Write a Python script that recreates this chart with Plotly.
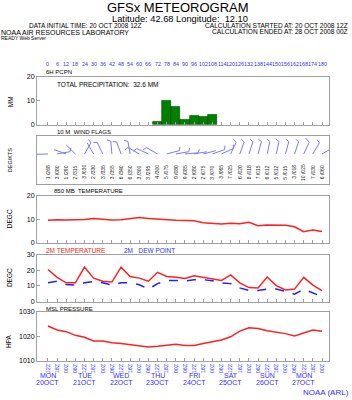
import math
import datetime
import plotly.graph_objects as go

# ---------------- data ----------------
hours = list(range(0, 181, 6))
init_time = datetime.datetime(2008, 10, 20, 12)

pcpn_hours = [72, 78, 84, 90, 96, 102, 108]
pcpn_mm = [1.5, 10.0, 7.7, 2.2, 3.8, 3.2, 4.2]
total_pcpn = 32.6

wind_speed = [1, 3, 1, 2, 3, 2, 3, 3, 6, 6, 3, 3, 4, 5, 9, 9, 2, 2, 3, 3, 7, 6, 8, 7, 6, 5, 5, 3, 10, 7, 6]
wind_dir = [268, 80, 290, 315, 30, 330, 335, 355, 340, 350, 300, 295, 300, 75, 80, 85,
            80, 75, 70, 65, 25, 20, 18, 15, 12, 12, 15, 18, 25, 30, 60]

t850 = [9.5, 9.8, 9.6, 9.7, 9.9, 10.3, 10.0, 9.7, 9.8, 10.2, 10.7, 10.3, 10.0, 9.6, 9.5, 9.4,
        9.3, 8.5, 8.1, 7.9, 8.3, 8.1, 8.7, 7.2, 7.5, 7.5, 7.4, 6.8, 4.7, 5.4, 4.8]

t2m = [20.5, 15.5, 12, 12, 22, 15, 13, 12.5, 22, 16, 15, 13, 18.7, 16, 15.5, 14.8,
       16.5, 15.5, 14.8, 13.5, 17, 12, 9, 8.7, 15.7, 10.2, 7.5, 8, 15.5, 10.5, 7]
td2m = [12, 13, 11, 10.5, 12, 12.8, 12, 10.5, 12, 12, 10.8, 8, 11.5, 13.5, 13.5, 13.2,
        14, 14, 13.3, 12, 11.5, 8.8, 7.2, 7.2, 8, 8, 6.5, 4.8, 8, 5.5, 3.2]

mslp = [1024.1, 1022.5, 1021.8, 1020.3, 1019.5, 1018, 1018, 1017.3, 1017, 1016.5, 1016.2,
        1015.6, 1015.9, 1016.2, 1016.7, 1016.2, 1016.2, 1017, 1017.8, 1018.4, 1019.7, 1022,
        1023.4, 1023.1, 1022.2, 1021.6, 1021, 1020, 1021.4, 1022.5, 1022]

# ---------------- layout geometry ----------------
W, H = 352, 400
X0, X1 = 37, 329
XR = [-7.2, 184.6]
pxh = (X1 - X0) / (XR[1] - XR[0])
panels = [(74, 123), (134, 183), (195, 243), (255, 303), (313, 363)]
FONT = "Liberation Sans, Arial, sans-serif"
BOX = "#a0a0a0"
BLUE = "#3030ff"


def dom(t, b):
    return [1 - b / H, 1 - t / H]


fig = go.Figure()

# precipitation
fig.add_trace(go.Bar(x=pcpn_hours, y=pcpn_mm, width=6, marker=dict(color="#008000", line=dict(color="#004000", width=0.6)),
                     xaxis="x", yaxis="y", showlegend=False))

# wind barbs (computed from direction/speed)
ys = 0.62
pyh = panels[1][1] - panels[1][0]
L = 13.0
bx, by = [], []
for h, d, s in zip(hours, wind_dir, wind_speed):
    r = math.radians(d)
    ex = h + L * math.sin(r) / pxh
    ey = ys + L * math.cos(r) / pyh
    bx += [h, ex, None]
    by += [ys, ey, None]
    nfull = s // 10
    half = (s % 10) >= 3
    for k in range(nfull + (1 if half else 0)):
        bl = 6.0 if k < nfull else 4.0
        off = k * 2.5
        sx = ex - off * math.sin(r) / pxh
        sy = ey - off * math.cos(r) / pyh
        rb = math.radians(d - 65)
        bx += [sx, sx + bl * math.sin(rb) / pxh, None]
        by += [sy, sy + bl * math.cos(rb) / pyh, None]
fig.add_trace(go.Scatter(x=bx, y=by, mode="lines", line=dict(color="#7878ff", width=1),
                         xaxis="x2", yaxis="y2", showlegend=False, hoverinfo="skip"))

# 850 temp
fig.add_trace(go.Scatter(x=hours, y=t850, mode="lines", line=dict(color="#ff2020", width=1.5),
                         xaxis="x3", yaxis="y3", showlegend=False))
# 2m temp/dew
fig.add_trace(go.Scatter(x=hours, y=t2m, mode="lines", line=dict(color="#ff2020", width=1.5),
                         xaxis="x4", yaxis="y4", showlegend=False))
fig.add_trace(go.Scatter(x=hours, y=td2m, mode="lines", line=dict(color="#2020ff", width=1.5, dash="dash"),
                         xaxis="x4", yaxis="y4", showlegend=False))
# MSLP
fig.add_trace(go.Scatter(x=hours, y=mslp, mode="lines", line=dict(color="#ff2020", width=1.5),
                         xaxis="x5", yaxis="y5", showlegend=False))

lay = dict(width=W, height=H, margin=dict(l=0, r=0, t=0, b=0), paper_bgcolor="white",
           plot_bgcolor="white", font=dict(family=FONT, size=7, color="black"), bargap=0)

ticktext_bottom = [f"{(init_time + datetime.timedelta(hours=h)).hour:02d}Z" for h in hours]
yspec = [([0, 20], [0, 10, 20]), ([0, 1], []), ([0, 20], [0, 10, 20]), ([0, 30], [0, 10, 20, 30]),
         ([1010, 1030], [1010, 1020, 1030])]
for i, (t, b) in enumerate(panels):
    n = "" if i == 0 else str(i + 1)
    xa = dict(domain=[X0 / W, X1 / W], range=XR, anchor="y" + n, showgrid=False, zeroline=False,
              showline=True, mirror=True, linecolor=BOX, linewidth=1,
              tickvals=hours, ticks="inside" if i != 1 else "", ticklen=3, tickcolor=BOX,
              showticklabels=False, fixedrange=True)
    if i == 4:
        xa.update(showticklabels=True, ticktext=ticktext_bottom, tickangle=-90,
                  tickfont=dict(size=5.5, color=BLUE, family=FONT))
    lay["xaxis" + n] = xa
    rng, tv = yspec[i]
    ya = dict(domain=dom(t, b), range=rng, anchor="x" + n, showgrid=False, zeroline=False,
              showline=True, mirror=True, linecolor=BOX, linewidth=1,
              tickvals=tv, ticks="inside" if tv else "", ticklen=3, tickcolor=BOX,
              showticklabels=bool(tv), tickfont=dict(size=7, family=FONT), fixedrange=True)
    lay["yaxis" + n] = ya

fig.update_layout(**lay)

anns = []


def ann(x, y, text, size=6.5, color="black", xa="left", ya="middle", angle=0, xref="paper", yref="paper"):
    anns.append(dict(x=x, y=y, xref=xref, yref=yref, text=text, showarrow=False, textangle=angle,
                     xanchor=xa, yanchor=ya, font=dict(size=size, color=color, family=FONT), borderpad=0))


def px(xp):
    return xp / W


def py(yp):
    return 1 - yp / H


ann(px(178), py(3.5), "GFSx METEOROGRAM", size=13, xa="center")
ann(px(180), py(15.5), "Latitude: 42.68 Longitude:  12.10", size=9.3, xa="center")
ann(px(85), py(21.5), "DATA INITIAL TIME: 20 OCT 2008 12Z", size=6.5, xa="center")
ann(px(0), py(28.5), "NOAA AIR RESOURCES LABORATORY", size=7, xa="left")
ann(px(0), py(34.5), "READY Web Server", size=5, xa="left")
ann(px(349), py(21.5), "CALCULATION STARTED AT: 20 OCT 2008 12Z", size=6.6, xa="right")
ann(px(349), py(27.5), "CALCULATION ENDED AT: 28 OCT 2008 00Z", size=6.6, xa="right")

for h in hours:
    anns.append(dict(x=h, y=py(61.5), xref="x", yref="paper", text=str(h), showarrow=False,
                     xanchor="center", yanchor="middle", font=dict(size=5.3, color=BLUE, family=FONT)))

ann(px(45), py(69.5), "6H PCPN", size=6)
ann(px(56), py(81.5), f"TOTAL PRECIPITATION:  {total_pcpn} MM", size=6.5)
ann(px(56), py(130.5), "10 M  WIND FLAGS", size=6)
ann(px(53), py(190.5), "850 MB  TEMPERATURE", size=6)
ann(px(45), py(250.5), "2M TEMPERATURE", size=6.5, color="#ff2020")
ann(px(123), py(250.5), "2M   DEW POINT", size=6.5, color="#3030ff")
ann(px(45), py(310.5), "MSL PRESSURE", size=6)

ann(px(10), py(100), "MM", size=6.5, xa="center", angle=-90)
ann(px(10), py(159), "DEG/KTS", size=5.5, xa="center", angle=-90)
ann(px(9), py(219), "DEGC", size=6.5, xa="center", angle=-90)
ann(px(9), py(279), "DEGC", size=6.5, xa="center", angle=-90)
ann(px(9), py(343), "HPA", size=6.5, xa="center", angle=-90)

for h, d, s in zip(hours, wind_dir, wind_speed):
    anns.append(dict(x=h, y=0.24, xref="x2", yref="y2", text=f"{s} /{d:03d}", showarrow=False,
                     textangle=-90, xanchor="center", yanchor="middle",
                     font=dict(size=5, color="#202020", family=FONT)))

for h in range(0, 181, 24):
    dt = init_time + datetime.timedelta(hours=h)
    anns.append(dict(x=h, y=py(378.5), xref="x5", yref="paper", text=dt.strftime("%a").upper(),
                     showarrow=False, xanchor="center", yanchor="middle",
                     font=dict(size=7, color=BLUE, family=FONT)))
    anns.append(dict(x=h, y=py(385.5), xref="x5", yref="paper",
                     text=f"{dt.day}" + dt.strftime("%b").upper(), showarrow=False,
                     xanchor="center", yanchor="middle",
                     font=dict(size=7, color=BLUE, family=FONT)))

ann(px(350), py(395.5), "NOAA (ARL)", size=8, color=BLUE, xa="right")

fig.update_layout(annotations=anns)
fig.write_html("out.html")
